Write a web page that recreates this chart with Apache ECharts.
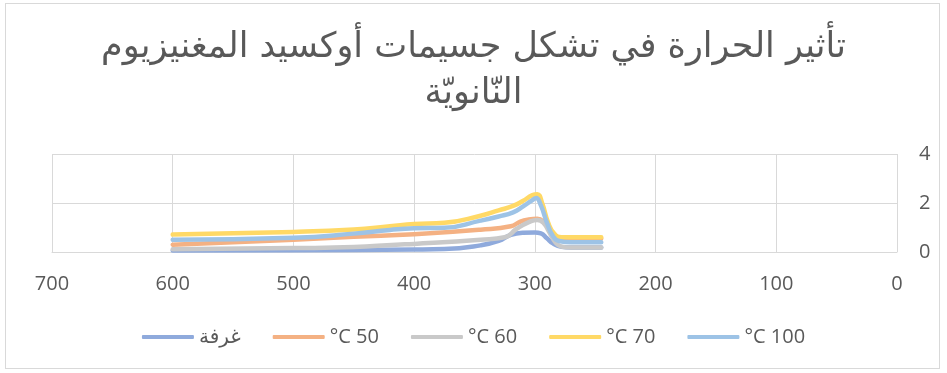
<!DOCTYPE html>
<html>
<head>
<meta charset="utf-8">
<script src="https://cdn.jsdelivr.net/npm/echarts@6/dist/echarts.min.js"></script>
<style>
  html, body { margin: 0; padding: 0; background: #fff; }
  #frame { position: absolute; left: 5px; top: 3px; width: 935px; height: 366px; border: 1px solid #D9D9D9; box-sizing: border-box; }
  #chart { position: absolute; left: 0; top: 0; width: 947px; height: 373px; }
</style>
</head>
<body>
<div id="frame"></div>
<div id="chart"></div>
<script>
// Title lines
const titleLines = ['تأثير الحرارة في تشكل جسيمات أوكسيد المغنيزيوم', 'النّانويّة'];

// Series names (legend order)
const seriesNames = ['غرفة', '°C 50', '°C 60', '°C 70', '°C 100'];

// Curves: [temperature-axis value, reading]
const roomTemp = [
  [600, 0.06], [500, 0.07], [400, 0.10], [375, 0.12], [345, 0.27], [330, 0.45],
  [320, 0.70], [310, 0.79], [300, 0.80], [295, 0.76], [290, 0.56], [285, 0.35],
  [278, 0.21], [270, 0.18], [245, 0.18]
];
const temp50 = [
  [600, 0.30], [500, 0.50], [450, 0.62], [400, 0.72], [345, 0.91], [320, 1.05],
  [312, 1.24], [305, 1.33], [298, 1.36], [293, 1.25], [288, 0.92], [283, 0.62],
  [278, 0.55], [270, 0.55], [245, 0.55]
];
const temp60 = [
  [600, 0.11], [500, 0.16], [450, 0.20], [415, 0.30], [400, 0.33], [345, 0.50],
  [325, 0.60], [315, 0.95], [305, 1.22], [298, 1.31], [293, 1.20], [288, 0.80],
  [283, 0.40], [278, 0.22], [270, 0.18], [245, 0.18]
];
const temp70 = [
  [600, 0.71], [500, 0.82], [450, 0.92], [420, 1.05], [400, 1.14], [375, 1.19],
  [345, 1.48], [330, 1.70], [318, 1.88], [310, 2.08], [302, 2.32], [298, 2.36],
  [294, 2.00], [289, 1.20], [284, 0.75], [278, 0.60], [270, 0.60], [245, 0.60]
];
const temp100 = [
  [600, 0.50], [500, 0.58], [450, 0.75], [420, 0.90], [400, 0.97], [375, 0.99],
  [345, 1.28], [330, 1.45], [318, 1.62], [310, 1.85], [302, 2.12], [299, 2.20],
  [295, 1.90], [290, 1.20], [285, 0.65], [280, 0.45], [270, 0.40], [245, 0.40]
];

// Axis ranges
const xRange = { min: 0, max: 700, step: 100 };
const yRange = { min: 0, max: 4, step: 2 };

const colors = ['#8FAADC', '#F4B183', '#C9C9C9', '#FFD966', '#9DC3E6'];
const seriesData = [roomTemp, temp50, temp60, temp70, temp100];
const labelFont = "'Open Sans', 'DejaVu Sans', sans-serif";
const textGrey = '#595959';
const gridGrey = '#D9D9D9';

const chart = echarts.init(document.getElementById('chart'), null, { renderer: 'canvas' });

chart.setOption({
  animation: false,
  color: colors,
  title: {
    text: titleLines.join('\n'),
    left: 'center',
    top: 20,
    textStyle: {
      fontFamily: "'DejaVu Sans', 'Liberation Sans', sans-serif",
      fontSize: 35,
      fontWeight: 'normal',
      color: textGrey,
      lineHeight: 46
    }
  },
  legend: {
    left: 'center',
    top: 322,
    itemWidth: 52,
    itemHeight: 4,
    itemGap: 32,
    icon: 'roundRect',
    data: seriesNames,
    textStyle: { fontFamily: labelFont, fontSize: 20, color: textGrey }
  },
  grid: { left: 52, right: 50, top: 154, bottom: 121, containLabel: false },
  xAxis: {
    type: 'value',
    inverse: true,
    min: xRange.min,
    max: xRange.max,
    interval: xRange.step,
    axisLine: { show: true, lineStyle: { color: gridGrey, width: 1 } },
    axisTick: { show: false },
    axisLabel: { margin: 22, fontFamily: labelFont, fontSize: 20, color: textGrey },
    splitLine: { show: true, lineStyle: { color: gridGrey, width: 1 } }
  },
  yAxis: {
    type: 'value',
    position: 'right',
    min: yRange.min,
    max: yRange.max,
    interval: yRange.step,
    axisLine: { show: false },
    axisTick: { show: false },
    axisLabel: { margin: 22, fontFamily: labelFont, fontSize: 20, color: textGrey },
    splitLine: { show: true, lineStyle: { color: gridGrey, width: 1 } }
  },
  series: seriesNames.map((name, i) => ({
    name: name,
    type: 'line',
    data: seriesData[i],
    smooth: 0.5,
    showSymbol: false,
    symbol: 'none',
    lineStyle: { width: 4.5, color: colors[i], cap: 'round', join: 'round' },
    itemStyle: { color: colors[i] },
    emphasis: { disabled: true }
  }))
});
</script>
</body>
</html>
